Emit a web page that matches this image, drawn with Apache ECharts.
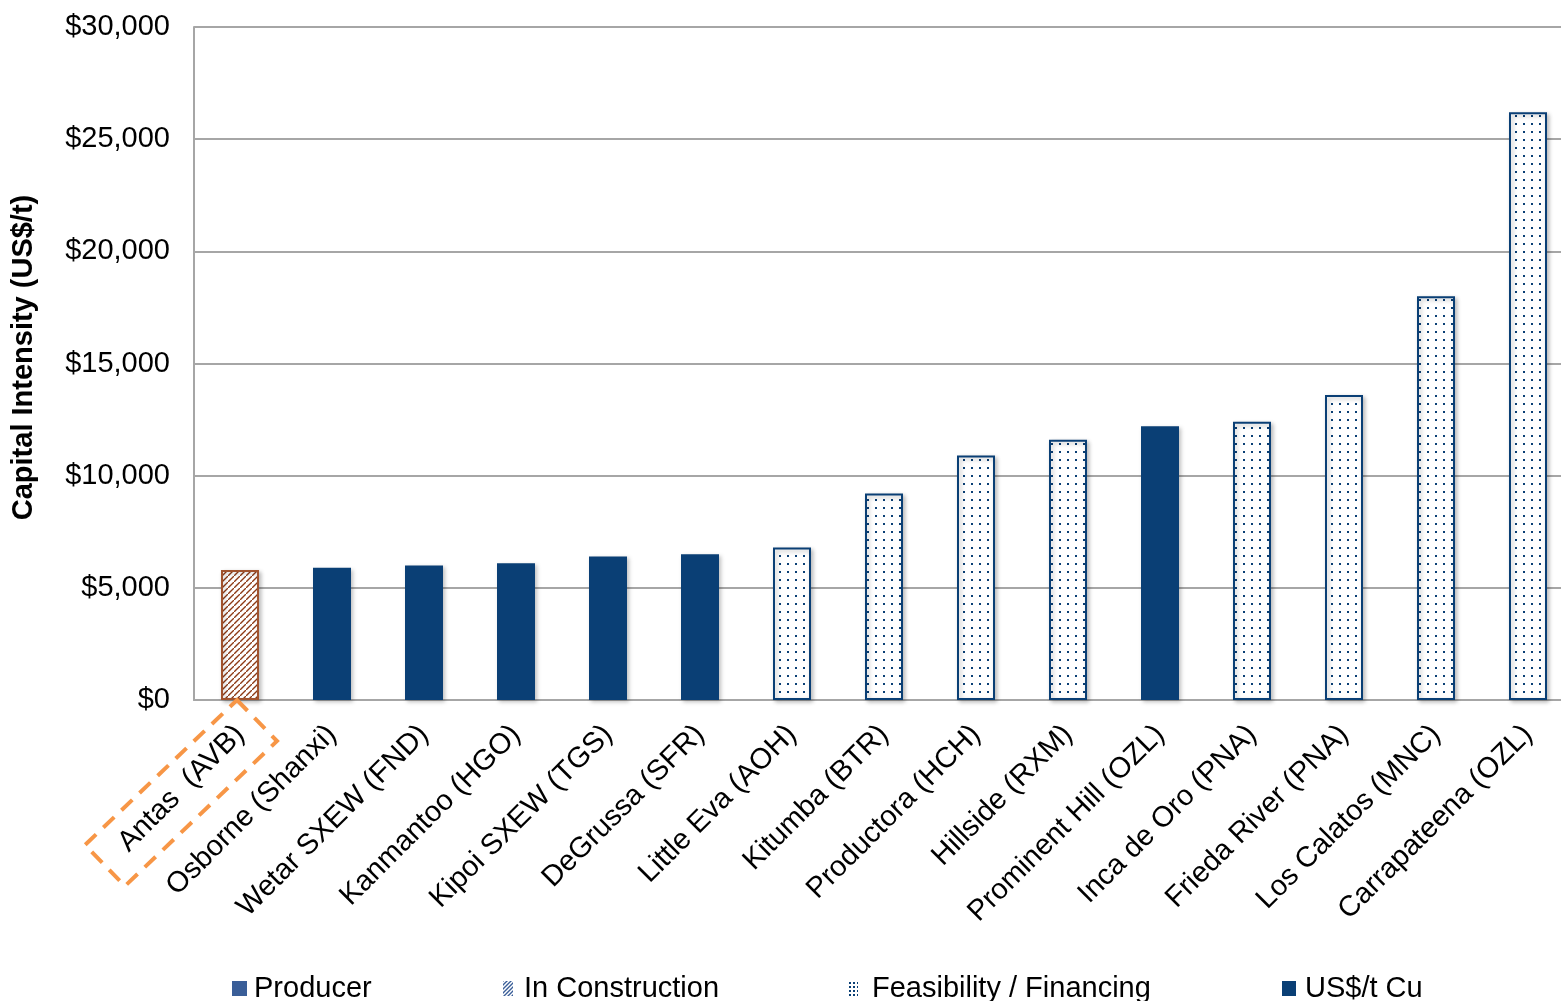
<!DOCTYPE html>
<html>
<head>
<meta charset="utf-8">
<script src="https://cdn.jsdelivr.net/npm/echarts@6/dist/echarts.min.js"></script>
<style>
html,body{margin:0;padding:0;background:#fff;overflow:hidden;}
#chart{width:1574px;height:1001px;}
</style>
</head>
<body>
<div id="chart"></div>
<script>
const categories = ['Antas  (AVB)', 'Osborne (Shanxi)', 'Wetar SXEW (FND)', 'Kanmantoo (HGO)', 'Kipoi SXEW (TGS)', 'DeGrussa (SFR)', 'Little Eva (AOH)', 'Kitumba (BTR)', 'Productora (HCH)', 'Hillside (RXM)', 'Prominent Hill (OZL)', 'Inca de Oro (PNA)', 'Frieda River (PNA)', 'Los Calatos (MNC)', 'Carrapateena (OZL)'];
const producer = [null, 5900, 6000, 6100, 6400, 6500, null, null, null, null, 12200, null, null, null, null];
const inConstruction = [5800, null, null, null, null, null, null, null, null, null, null, null, null, null, null];
const feasibility = [null, null, null, null, null, null, 6800, 9200, 10900, 11600, null, 12400, 13600, 18000, 26200];
const usdPerTCu = [null, null, null, null, null, null, null, null, null, null, null, null, null, null, null];
const yTicks = [0, 5000, 10000, 15000, 20000, 25000, 30000];

const NAVY = '#0A3F75';
const FONT = "'Liberation Sans', Arial, sans-serif";

function hatch(color, bg, size) {
  const s = size || 6;
  const c = document.createElement('canvas');
  c.width = s; c.height = s;
  const g = c.getContext('2d');
  if (bg) { g.fillStyle = bg; g.fillRect(0, 0, s, s); }
  g.strokeStyle = color; g.lineWidth = 1.4;
  g.beginPath();
  g.moveTo(-1, s + 1); g.lineTo(s + 1, -1);
  g.moveTo(-s + 2, 2); g.lineTo(2, -s + 2);
  g.moveTo(s - 2, 2 * s - 2); g.lineTo(2 * s - 2, s - 2);
  g.stroke();
  return { image: c, repeat: 'repeat' };
}
function dots(color, bg, step) {
  const s = step || 8;
  const c = document.createElement('canvas');
  c.width = s; c.height = s;
  const g = c.getContext('2d');
  if (bg) { g.fillStyle = bg; g.fillRect(0, 0, s, s); }
  g.fillStyle = color;
  g.fillRect(Math.floor(s / 2) - 1, Math.floor(s / 2) - 1, 2, 2);
  return { image: c, repeat: 'repeat' };
}

const chart = echarts.init(document.getElementById('chart'), null, { renderer: 'canvas' });

const shadow = { shadowColor: 'rgba(0,0,0,0.25)', shadowBlur: 4, shadowOffsetX: 2, shadowOffsetY: 2 };
const noShadow = { borderWidth: 0, shadowBlur: 0, shadowOffsetX: 0, shadowOffsetY: 0 };

function legendAt(name, left, w, textPad, itemStyle) {
  return {
    show: true, left: left, top: 974, orient: 'horizontal', padding: 0,
    selectedMode: false, icon: 'rect', itemWidth: w, itemHeight: 15,
    textStyle: { fontSize: 29, color: '#000', fontFamily: FONT, padding: [0, 0, 0, textPad] },
    data: [{ name: name, itemStyle: Object.assign({}, noShadow, itemStyle) }]
  };
}

const option = {
  animation: false,
  backgroundColor: '#fff',
  textStyle: { fontFamily: FONT },
  grid: { left: 194, right: 0, top: 27, bottom: 301, containLabel: false },
  legend: [
    legendAt('Producer', 232, 15, 2, { color: '#3A5E98' }),
    legendAt('In Construction', 503, 10, 6, { color: hatch('#3A5E98', '#fff', 4) }),
    legendAt('Feasibility / Financing', 848, 10, 9, { color: dots(NAVY, '#fff', 4) }),
    legendAt('US$/t Cu', 1282, 14, 4, { color: NAVY })
  ],
  xAxis: {
    type: 'category',
    data: categories,
    axisLine: { show: true, lineStyle: { color: '#A6A6A6', width: 2 } },
    axisTick: { show: false },
    axisLabel: { interval: 0, rotate: 45, margin: 30, fontSize: 29, color: '#000', fontFamily: FONT }
  },
  yAxis: {
    type: 'value',
    min: 0, max: 30000, interval: 5000,
    name: 'Capital Intensity (US$/t)',
    nameLocation: 'middle',
    nameGap: 156,
    nameRotate: 90,
    nameTextStyle: { fontSize: 29, fontWeight: 'bold', color: '#000', fontFamily: FONT, padding: [0, 0, 0, 12] },
    axisLine: { show: true, lineStyle: { color: '#A6A6A6', width: 2 } },
    axisTick: { show: false },
    splitLine: { show: true, lineStyle: { color: '#A6A6A6', width: 2 } },
    axisLabel: {
      fontSize: 29, color: '#000', margin: 24, fontFamily: FONT,
      formatter: v => yTicks.indexOf(v) >= 0 ? '$' + v.toLocaleString('en-US') : ''
    }
  },
  series: [
    { name: 'Producer', type: 'bar', barWidth: 38, barGap: '-100%', data: producer,
      itemStyle: Object.assign({ color: NAVY }, shadow) },
    { name: 'In Construction', type: 'bar', barWidth: 38, barGap: '-100%', data: inConstruction,
      itemStyle: Object.assign({ color: hatch('#8E3B16', '#fff'), borderColor: '#A0522D', borderWidth: 2 }, shadow) },
    { name: 'Feasibility / Financing', type: 'bar', barWidth: 38, barGap: '-100%', data: feasibility,
      itemStyle: Object.assign({ color: dots(NAVY, '#fff'), borderColor: NAVY, borderWidth: 2 }, shadow) },
    { name: 'US$/t Cu', type: 'bar', barWidth: 38, barGap: '-100%', data: usdPerTCu,
      itemStyle: { color: NAVY } }
  ]
};
chart.setOption(option);

// dashed highlight box around the first category label
const p = chart.convertToPixel({ xAxisIndex: 0, yAxisIndex: 0 }, [0, 0]);
const T = [p[0] - 3, p[1]];
const u = [40, 41], v = [-152, 145];
chart.setOption({
  graphic: [{
    type: 'polygon',
    shape: { points: [T, [T[0] + u[0], T[1] + u[1]], [T[0] + u[0] + v[0], T[1] + u[1] + v[1]], [T[0] + v[0], T[1] + v[1]]] },
    style: { fill: null, stroke: '#F79646', lineWidth: 4, lineDash: [15, 10] },
    z: 100
  }]
});
</script>
</body>
</html>
